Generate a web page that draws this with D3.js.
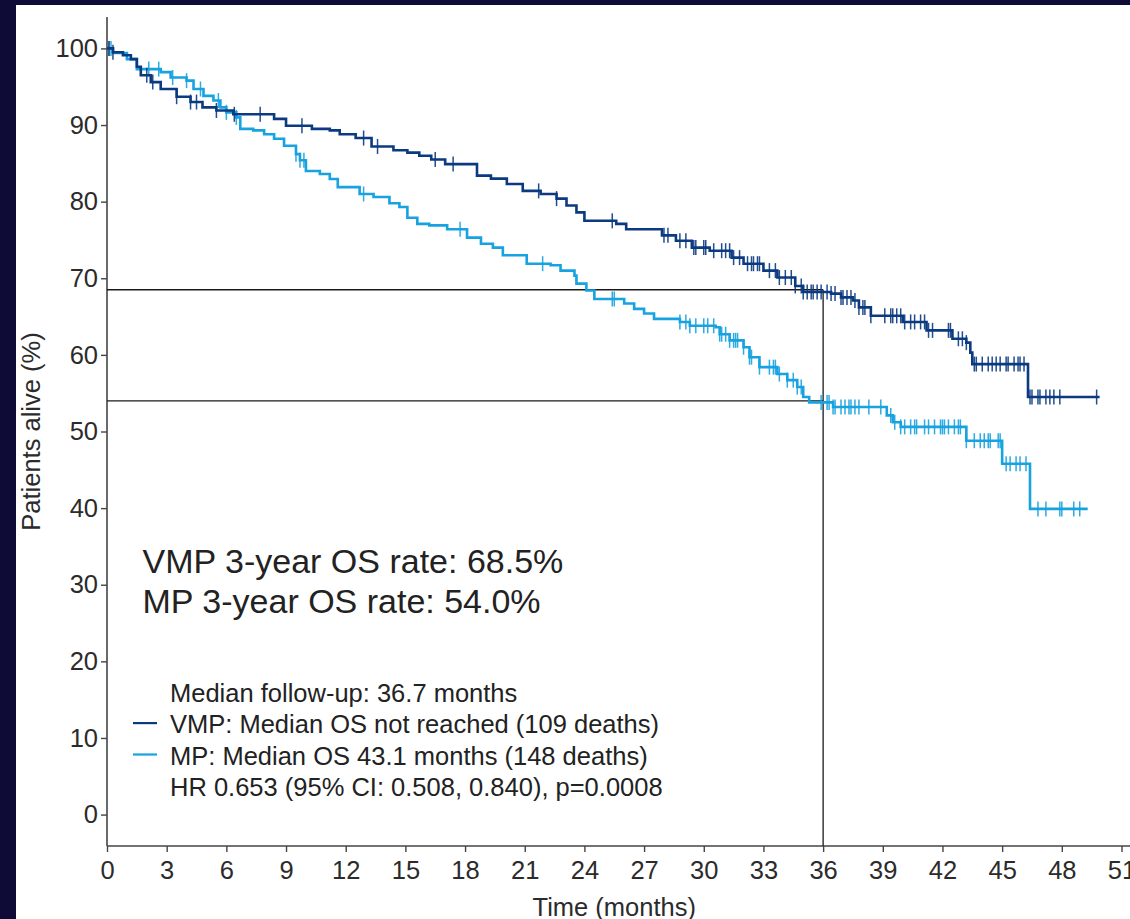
<!DOCTYPE html>
<html>
<head>
<meta charset="utf-8">
<script src="https://cdn.jsdelivr.net/npm/d3@7"></script>
<style>
  html, body { margin: 0; padding: 0; background: #0e0b36; }
  svg { display: block; }
  text { font-family: "Liberation Sans", Arial, sans-serif; }
</style>
</head>
<body>
<svg id="chart" width="1130" height="919"></svg>
<script>
// Kaplan–Meier overall survival, VMP vs MP
// Step curves: time (months) at which the survival estimate changes, and the new value (%)
const vmpTime = [0, 0.3, 0.8, 1.2, 1.5, 1.7, 2.2, 2.7, 3.5, 4.2, 4.8, 5.5, 6.35, 8.4, 9.0, 10.3, 11.2, 11.7, 12.5, 13.3, 14.4, 15.1, 15.7, 16.3, 17.0, 18.6, 19.3, 20.1, 20.9, 21.8, 22.6, 23.1, 23.6, 24.0, 25.6, 26.1, 27.9, 28.6, 29.4, 30.3, 31.4, 32.0, 33.0, 33.7, 34.6, 35.0, 36.4, 36.9, 37.5, 37.8, 38.4, 40.0, 41.2, 42.5, 43.2, 43.4, 43.5, 46.3, 49.9];
const vmpSurv = [100, 99.5, 99.1, 98.6, 97.6, 96.5, 95.6, 94.7, 93.7, 93.0, 92.3, 91.9, 91.4, 90.8, 89.9, 89.5, 89.3, 88.8, 88.3, 87.2, 86.7, 86.4, 86.0, 85.5, 84.9, 83.4, 83.0, 82.3, 81.4, 81.0, 80.4, 79.5, 78.6, 77.5, 77.1, 76.4, 75.6, 74.9, 74.0, 73.6, 72.7, 71.9, 71.0, 70.1, 69.0, 68.2, 68.0, 67.5, 67.1, 66.2, 65.1, 64.3, 63.2, 62.1, 61.6, 60.3, 58.8, 54.5, 54.5];

const mpTime = [0, 0.3, 1.0, 1.5, 2.7, 3.2, 4.0, 4.35, 4.85, 5.35, 5.7, 6.0, 6.5, 6.7, 7.35, 7.9, 8.4, 8.9, 9.5, 9.7, 10.0, 10.7, 11.2, 11.6, 12.7, 13.4, 14.2, 14.7, 15.1, 15.6, 16.2, 17.1, 18.1, 18.8, 19.4, 19.9, 21.1, 22.3, 22.8, 23.5, 23.6, 24.1, 24.5, 26.0, 26.5, 27.0, 27.5, 28.8, 29.3, 30.6, 30.8, 31.3, 32.0, 32.3, 32.8, 33.7, 34.2, 34.7, 35.0, 35.3, 36.5, 39.2, 39.5, 39.9, 43.2, 45.0, 46.4, 49.3];
const mpSurv = [100, 99.4, 98.6, 97.3, 96.9, 96.2, 95.8, 94.7, 93.8, 93.2, 92.3, 91.65, 91.0, 89.5, 89.3, 88.8, 88.2, 87.3, 86.2, 85.4, 84.0, 83.6, 82.96, 81.9, 81.0, 80.6, 79.8, 79.3, 77.9, 77.1, 76.9, 76.4, 75.3, 74.5, 74.0, 73.0, 71.9, 71.7, 71.0, 70.35, 69.3, 68.4, 67.3, 66.7, 66.0, 65.4, 64.7, 64.3, 63.8, 63.6, 62.7, 61.9, 61.0, 59.7, 58.4, 57.5, 56.7, 55.8, 54.5, 53.8, 53.2, 52.1, 51.2, 50.6, 48.8, 45.8, 39.9, 39.9];

// Censoring times (months)
const vmpCensor = [0.1, 0.3, 2.0, 2.3, 3.5, 4.2, 4.5, 5.5, 6.4, 7.7, 9.8, 12.9, 13.6, 16.5, 17.4, 21.7, 22.6, 25.4, 28.0, 28.2, 28.8, 29.1, 29.5, 29.6, 30.0, 30.1, 30.5, 30.9, 31.1, 31.3, 31.5, 31.8, 32.2, 32.4, 32.5, 32.7, 32.8, 33.3, 33.6, 33.8, 34.1, 34.4, 34.6, 34.9, 35.0, 35.2, 35.4, 35.5, 35.7, 35.9, 36.2, 36.4, 36.6, 36.9, 37.0, 37.2, 37.4, 37.6, 37.8, 38.0, 38.1, 38.4, 39.1, 39.4, 39.5, 39.7, 39.9, 40.1, 40.4, 40.6, 40.9, 41.1, 41.3, 41.5, 42.3, 42.4, 42.8, 43.0, 43.2, 43.6, 43.7, 44.0, 44.3, 44.5, 44.7, 44.9, 45.2, 45.3, 45.6, 45.8, 45.9, 46.1, 46.4, 46.5, 46.8, 46.9, 47.2, 47.4, 47.6, 47.9, 49.75];
const mpCensor = [0.1, 0.2, 2.1, 2.6, 3.3, 4.0, 4.7, 5.6, 6.0, 6.5, 9.5, 9.7, 9.9, 12.9, 17.75, 21.9, 25.4, 25.5, 28.8, 29.1, 29.3, 29.6, 30.0, 30.2, 30.5, 30.8, 30.9, 31.1, 31.3, 31.5, 31.6, 31.7, 32.0, 32.3, 32.4, 32.8, 33.3, 33.5, 33.6, 33.8, 34.2, 34.5, 34.7, 34.9, 35.9, 36.2, 36.3, 36.5, 36.6, 36.9, 37.1, 37.3, 37.4, 37.6, 37.8, 38.3, 38.9, 39.4, 39.6, 39.9, 40.1, 40.4, 40.6, 40.7, 41.1, 41.3, 41.6, 41.9, 42.0, 42.1, 42.3, 42.6, 42.8, 42.9, 43.2, 43.6, 43.9, 44.1, 44.3, 44.4, 44.8, 44.9, 45.2, 45.4, 45.7, 45.9, 46.2, 46.8, 47.2, 47.9, 48.0, 48.6, 48.9];

// 3-year landmark
const landmarkMonth = 36;
const vmpRate3y = 68.5;
const mpRate3y = 54.0;

const xTicks = d3.range(0, 52, 3);
const yTicks = d3.range(0, 101, 10);

const legendLines = [
  { text: "Median follow-up: 36.7 months", color: null },
  { text: "VMP: Median OS not reached (109 deaths)", color: "#0b3a80" },
  { text: "MP: Median OS 43.1 months (148 deaths)", color: "#17a2e0" },
  { text: "HR 0.653 (95% CI: 0.508, 0.840), p=0.0008", color: null }
];

const COLOR_VMP = "#0b3a80";
const COLOR_MP = "#17a2e0";

const svg = d3.select("#chart");

// white panel
svg.append("rect").attr("x", 16).attr("y", 5).attr("width", 1114).attr("height", 914).attr("fill", "#ffffff");

const x = d3.scaleLinear().domain([0, 51]).range([107, 1121.5]);
const y = d3.scaleLinear().domain([-4.1, 104.1]).range([846, 17]);

const ink = "#2b2b2b";

// axes
const xAxis = svg.append("g").attr("transform", `translate(0,${y(-4.1)})`)
  .call(d3.axisBottom(x).tickValues(xTicks).tickSize(6).tickPadding(9).tickSizeOuter(0));
xAxis.select(".domain").remove();
xAxis.selectAll(".tick line").attr("stroke", "#444").attr("stroke-width", 1.4);
xAxis.selectAll(".tick text").attr("fill", ink).attr("font-size", 25.5).attr("font-family", "Liberation Sans, Arial, sans-serif");
xAxis.append("line").attr("x1", x(0)).attr("x2", 1130).attr("y1", 0).attr("y2", 0)
  .attr("stroke", "#444").attr("stroke-width", 1.6);

const yAxis = svg.append("g").attr("transform", `translate(${x(0)},0)`)
  .call(d3.axisLeft(y).tickValues(yTicks).tickSize(6).tickPadding(3).tickSizeOuter(0));
yAxis.select(".domain").remove();
yAxis.selectAll(".tick line").attr("stroke", "#444").attr("stroke-width", 1.4);
yAxis.selectAll(".tick text").attr("fill", ink).attr("font-size", 25.5).attr("font-family", "Liberation Sans, Arial, sans-serif");
yAxis.append("line").attr("x1", 0).attr("x2", 0).attr("y1", y(104.1)).attr("y2", y(-4.1))
  .attr("stroke", "#444").attr("stroke-width", 1.6);

// axis titles
svg.append("text").attr("x", (x(0) + x(51)) / 2).attr("y", 916).attr("text-anchor", "middle")
  .attr("font-size", 25.5).attr("fill", ink).text("Time (months)");
svg.append("text").attr("transform", `translate(40,${(y(104.1) + y(-4.1)) / 2}) rotate(-90)`)
  .attr("text-anchor", "middle").attr("font-size", 25.5).attr("fill", ink).text("Patients alive (%)");

// landmark reference lines at 36 months
const refG = svg.append("g").attr("stroke", "#1a1a1a").attr("stroke-width", 1.3).attr("fill", "none");
refG.append("line").attr("x1", x(0)).attr("x2", x(landmarkMonth)).attr("y1", y(vmpRate3y)).attr("y2", y(vmpRate3y));
refG.append("line").attr("x1", x(0)).attr("x2", x(landmarkMonth)).attr("y1", y(mpRate3y)).attr("y2", y(mpRate3y));
refG.append("line").attr("x1", x(landmarkMonth)).attr("x2", x(landmarkMonth)).attr("y1", y(vmpRate3y)).attr("y2", y(-4.1));

// KM curves
function stepValue(times, surv, t) {
  const i = d3.bisectRight(times, t) - 1;
  return surv[Math.max(0, i)];
}
const line = d3.line().x(d => x(d[0])).y(d => y(d[1])).curve(d3.curveStepAfter);

function drawSeries(times, surv, censor, color) {
  const pts = times.map((t, i) => [t, surv[i]]);
  const g = svg.append("g");
  g.append("path").attr("d", line(pts)).attr("fill", "none").attr("stroke", color)
    .attr("stroke-width", 2.6).attr("stroke-linejoin", "miter");
  g.selectAll("line.censor").data(censor).join("line").attr("class", "censor")
    .attr("x1", d => x(d)).attr("x2", d => x(d))
    .attr("y1", d => y(stepValue(times, surv, d)) - 7.5)
    .attr("y2", d => y(stepValue(times, surv, d)) + 7.5)
    .attr("stroke", color).attr("stroke-width", 1.5).attr("opacity", 0.9);
}
drawSeries(mpTime, mpSurv, mpCensor, COLOR_MP);
drawSeries(vmpTime, vmpSurv, vmpCensor, COLOR_VMP);

// 3-year OS annotation
svg.append("text").attr("x", 142.5).attr("y", 573).attr("font-size", 34).attr("fill", "#222")
  .text(`VMP 3-year OS rate: ${vmpRate3y.toFixed(1)}%`);
svg.append("text").attr("x", 142.5).attr("y", 613).attr("font-size", 34).attr("fill", "#222")
  .text(`MP 3-year OS rate: ${mpRate3y.toFixed(1)}%`);

// legend
const legend = svg.append("g");
legendLines.forEach((d, i) => {
  const by = 701.7 + i * 31.4;
  legend.append("text").attr("x", 170).attr("y", by).attr("font-size", 25.5).attr("fill", "#222").text(d.text);
  if (d.color) {
    legend.append("line").attr("x1", 133).attr("x2", 157).attr("y1", by - 10).attr("y2", by - 10)
      .attr("stroke", d.color).attr("stroke-width", 2.2);
  }
});
</script>
</body>
</html>
